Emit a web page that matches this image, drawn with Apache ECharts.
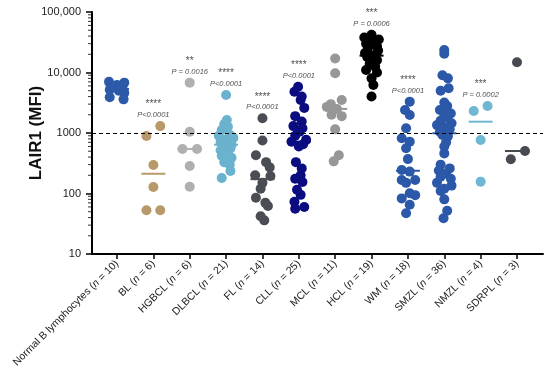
<!DOCTYPE html>
<html><head><meta charset="utf-8">
<script src="https://cdn.jsdelivr.net/npm/echarts@6/dist/echarts.min.js"></script>
<style>html,body{margin:0;padding:0;background:#fff}#c{width:550px;height:377px}</style>
</head><body><div id="c"></div>
<script>
const categories = ['Normal B lymphocytes','BL','HGBCL','DLBCL','FL','CLL','MCL','HCL','WM','SMZL','NMZL','SDRPL'];
const counts = [10,6,6,21,14,25,11,19,18,36,4,3];
const colors = ['#2C5AA8','#B89A6A','#B0B0B0','#6AB2CE','#4A4E54','#0A0C80','#979797','#000000','#2B58A8','#2B58A8','#70B7D3','#474B51'];

const normalB = [7000,6800,6200,5800,5500,5200,5000,4600,3900,3600];
const normalBJitter = [-0.22,0.2,0,-0.1,0.15,-0.2,0.05,0.2,-0.2,0.18];
const bl = [1300,890,296,128,53,53];
const blJitter = [0.19,-0.19,0,0,-0.19,0.19];
const hgbcl = [6800,1050,545,545,285,129];
const hgbclJitter = [0,0,-0.2,0.2,0,0];
const dlbcl = [4250,1640,1400,1270,1120,930,900,830,770,700,640,600,560,520,470,420,390,330,300,235,180];
const dlbclJitter = [0,0.02,-0.05,0.05,-0.12,0.1,-0.2,0.2,0,-0.15,0.15,-0.05,0.12,-0.15,0.05,-0.12,0.15,-0.05,0.1,0.12,-0.12];
const fl = [1750,750,430,330,270,200,195,150,120,85,70,62,42,36];
const flJitter = [0,0,-0.18,0.1,0.2,-0.2,0.22,0,-0.05,-0.18,0.08,0.15,-0.05,0.05];
const cll = [5800,4800,4000,3500,2600,1900,1550,1300,1200,1050,900,770,720,650,600,330,260,200,175,155,115,95,73,60,56];
const cllJitter = [-0.02,-0.12,0.08,0.05,0.15,-0.1,0.08,-0.15,0.1,0.02,-0.1,0.2,-0.2,0.12,0,-0.08,0.08,0.05,-0.1,0.1,-0.05,0.05,-0.12,0.15,-0.1];
const mcl = [17000,9700,3500,3000,2700,2500,2000,1900,1150,430,340];
const mclJitter = [0,0,0.18,-0.12,-0.23,0.05,-0.1,0.18,0,0.1,-0.04];
const hcl = [42000,38000,35000,33000,30000,27000,25000,23000,21000,19000,18000,16000,14000,12500,11000,10000,8000,6200,4000];
const hclJitter = [0,-0.2,0.2,0,-0.15,0.15,-0.1,0.18,-0.18,0.05,-0.12,0.15,-0.05,0.1,-0.15,0.15,0,0.05,0];
const wm = [3300,2400,1990,1200,820,720,560,370,245,230,167,167,150,101,94,83,65,47];
const wmJitter = [0.05,-0.08,0.05,-0.05,-0.17,0.05,-0.05,0,-0.17,0.05,-0.17,0.2,-0.05,0.05,0.2,-0.17,0.05,-0.05];
const smzl = [23500,20500,9000,8000,5500,5000,3200,2800,2400,2100,2000,1800,1600,1450,1350,1250,1150,1050,
              930,880,700,600,460,300,260,240,215,190,175,150,135,120,110,80,52,39];
const smzlJitter = [0,0,-0.05,0.1,0.12,-0.1,0,0.08,-0.12,0.18,0,0.08,-0.1,0.2,-0.2,0.05,0.15,-0.12,
                    -0.05,0.1,0.05,0,0,-0.1,0.15,-0.15,0.05,-0.1,0.18,-0.2,0.2,0,-0.1,0,0.08,-0.02];
const nmzl = [2790,2310,766,157];
const nmzlJitter = [0.19,-0.19,0,0];
const sdrpl = [14750,504,367];
const sdrplJitter = [0,0.22,-0.17];

const groupValues = [normalB,bl,hgbcl,dlbcl,fl,cll,mcl,hcl,wm,smzl,nmzl,sdrpl];
const groupJitter = [normalBJitter,blJitter,hgbclJitter,dlbclJitter,flJitter,cllJitter,mclJitter,hclJitter,wmJitter,smzlJitter,nmzlJitter,sdrplJitter];

const stars = ['','****','**','****','****','****','','***','****','','***',''];
const pValues = ['','P<0.0001','P = 0.0016','P<0.0001','P<0.0001','P<0.0001','','P = 0.0006','P<0.0001','','P = 0.0002',''];
const yTicks = [10,100,1000,10000,100000];
const yTickLabels = ['10','100','1000','10,000','100,000'];
const threshold = 1000;
const xMin = -0.6875, xMax = 11.715;

function median(a){const s=[...a].sort((x,y)=>x-y);const n=s.length;return n%2?s[(n-1)/2]:(s[n/2-1]+s[n/2])/2;}
const minorTicks=[];
for(let d=10; d<100000; d*=10){for(let k=2;k<=9;k++) minorTicks.push(d*k);}
const catIdx = categories.map((c,i)=>i);

const series = [];
// minor log ticks on the y axis, placed by the y scale
series.push({
  type:'scatter', z:6, silent:true, clip:false,
  symbol:'rect', symbolSize:[4,1], symbolOffset:[-2,0],
  itemStyle:{color:'#000'},
  data: minorTicks.map(v=>[xMin, v])
});
series.push({
  type:'custom', z:2, silent:true,
  data: groupValues.map((v,i)=>[i, median(v)]),
  renderItem(params, api){
    const i=api.value(0), m=api.value(1);
    const p1=api.coord([i-0.33,m]), p2=api.coord([i+0.33,m]);
    return {type:'line', shape:{x1:p1[0],y1:p1[1],x2:p2[0],y2:p2[1]}, style:{stroke:colors[i], lineWidth:2}};
  }
});
groupValues.forEach((vals,i)=>{
  series.push({
    type:'scatter', z:3, symbolSize:10, silent:true,
    itemStyle:{color:colors[i], opacity:1},
    data: vals.map((v,k)=>[i+groupJitter[i][k], v])
  });
});
series.push({
  type:'scatter', z:4, symbolSize:10, silent:true,
  itemStyle:{color:'rgba(0,0,0,0)'},
  data: groupValues.map((v,i)=>[i, Math.max(...v)]).filter((d,i)=>pValues[i]!==''),
  label:{
    show:true, position:'top', distance:1,
    formatter:(p)=>{const i=p.value[0]; return '{s|'+stars[i]+'}\n{p|'+pValues[i]+'}';},
    rich:{
      s:{fontFamily:'Liberation Sans', fontSize:10, color:'#222', lineHeight:11, align:'center'},
      p:{fontFamily:'Liberation Sans', fontStyle:'italic', fontSize:7.5, color:'#222', lineHeight:10, align:'center'}
    }
  },
  markLine:{
    silent:true, symbol:'none', label:{show:false},
    lineStyle:{type:[4,3], color:'#000', width:1.2},
    data:[{yAxis:threshold}]
  }
});

const chart = echarts.init(document.getElementById('c'), null, {renderer:'canvas'});
chart.setOption({
  animation:false,
  backgroundColor:'#fff',
  grid:{left:92, right:7, top:12, bottom:123, containLabel:false},
  xAxis:{
    type:'value', min:xMin, max:xMax,
    splitLine:{show:false},
    axisLine:{show:true, onZero:false, lineStyle:{color:'#000', width:2}},
    axisTick:{show:true, customValues:catIdx, length:5, lineStyle:{color:'#000', width:1.5}},
    axisLabel:{
      customValues:catIdx, rotate:45, margin:8,
      formatter:(v)=>{const i=Math.round(v); return '{t|'+categories[i]+' (}{i|n}{t| = '+counts[i]+')}';},
      rich:{
        t:{fontFamily:'Liberation Sans', fontSize:10.5, color:'#222'},
        i:{fontFamily:'Liberation Sans', fontSize:10.5, fontStyle:'italic', color:'#222'}
      }
    }
  },
  yAxis:{
    type:'log', logBase:10, min:10, max:100000,
    name:'LAIR1 (MFI)', nameLocation:'middle', nameGap:47, nameRotate:90, nameMoveOverlap:false,
    nameTextStyle:{fontFamily:'Liberation Sans', fontWeight:'bold', fontSize:17, color:'#111'},
    splitLine:{show:false},
    axisLine:{show:true, onZero:false, lineStyle:{color:'#000', width:2}},
    axisTick:{show:true, length:6, lineStyle:{color:'#000', width:1.5}},
    axisLabel:{margin:11, fontFamily:'Liberation Sans', fontSize:11, color:'#222',
      formatter:(v)=>{const k=yTicks.indexOf(Math.round(v)); return k>=0?yTickLabels[k]:'';}}
  },
  series: series
});
</script></body></html>
